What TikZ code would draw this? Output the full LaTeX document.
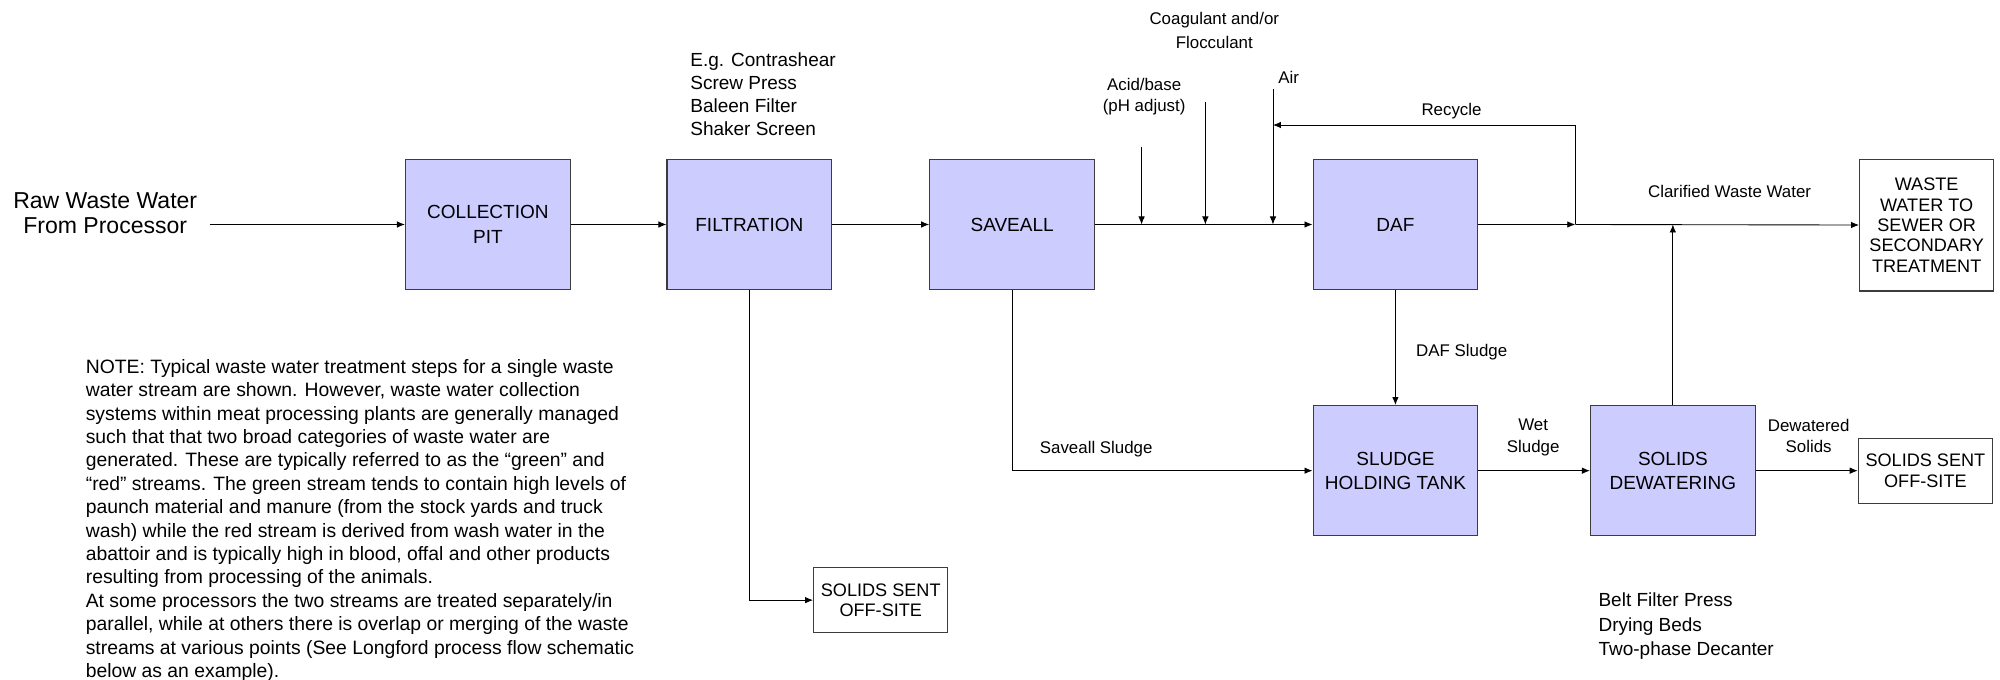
\documentclass[tikz,border=0pt]{standalone}
\usepackage{fontspec}
\setmainfont{Liberation Sans}
\usetikzlibrary{arrows.meta,positioning}

\definecolor{procfill}{RGB}{204,204,255}
\definecolor{procline}{RGB}{60,60,60}

\tikzset{
  procbox/.style={draw=procline, line width=0.7pt, fill=procfill, minimum width=3.29cm,
    minimum height=2.6cm, align=center, inner sep=2pt, font=\fontsize{10.8}{13.8}\selectfont},
  endbox/.style={draw=procline, line width=0.7pt, fill=white, minimum width=2.68cm,
    align=center, inner sep=2pt, font=\fontsize{10.3}{11.6}\selectfont},
  flow/.style={line width=0.5pt, -{Latex[length=1.6mm,width=1.3mm]}},
  plain/.style={line width=0.5pt},
  smalltxt/.style={inner sep=0pt, align=center, font=\fontsize{9.6}{11.6}\selectfont},
  bigtxt/.style={inner sep=0pt, align=left, font=\fontsize{10.8}{13.1}\selectfont},
}

\begin{document}
\begin{tikzpicture}[x=0.0255cm, y=-0.0255cm]
\useasboundingbox (0,0) rectangle (1568,533);

% main process boxes
\node[procbox] (colpit)  at (382.5,176) {COLLECTION\\PIT};
\node[procbox] (filt)    at (587.5,176) {FILTRATION};
\node[procbox] (saveall) at (793.5,176) {SAVEALL};
\node[procbox] (daf)     at (1094,176)  {DAF};
\node[procbox] (tank)    at (1094,369)  {SLUDGE\\HOLDING TANK};
\node[procbox] (dewat)   at (1311.5,369) {SOLIDS\\DEWATERING};

% end points
\node[endbox, minimum height=2.63cm] (sewer) at (1510.5,176.5)
  {WASTE\\WATER TO\\SEWER OR\\SECONDARY\\TREATMENT};
\node[endbox, minimum height=1.3cm] (offR) at (1509.5,369) {SOLIDS SENT\\OFF-SITE};
\node[endbox, minimum height=1.3cm] (offB) at (690.5,470.5) {SOLIDS SENT\\OFF-SITE};

% input text
\node[inner sep=0pt, align=center, anchor=north, font=\fontsize{13.1}{14.5}\selectfont]
  (raw) at (82.5,150.5) {Raw Waste Water\\From Processor};
\coordinate (rawend) at (165,176);

% junction points on the line
\coordinate (acidtop) at (895,115);
\coordinate (acidj)   at (895,176);
\coordinate (coagtop) at (945,80);
\coordinate (coagj)   at (945,176);
\coordinate (airtop)  at (998,70);
\coordinate (airj)    at (998,176);
\coordinate (rcyend)  at (998,98);
\coordinate (rcyj)    at (1235,176);

% main flow
\draw[flow] (rawend) -- (colpit);
\draw[flow] (colpit) -- (filt);
\draw[flow] (filt) -- (saveall);
\draw[flow] (saveall) -- (daf);
\draw[flow] (daf) -- (rcyj);
\draw[flow] (rcyj) -- (sewer);

% dosing and recycle
\draw[flow] (acidtop) -- (acidj);
\draw[flow] (coagtop) -- (coagj);
\draw[flow] (airtop) -- (airj);
\draw[flow] (rcyj) |- (rcyend);

% sludge lines
\draw[flow] (filt.south) |- (offB.west);
\draw[flow] (saveall.south) |- (tank.west);
\draw[flow] (daf) -- (tank);
\draw[flow] (tank) -- (dewat);
\draw[flow] (dewat) -- (offR);
\draw[flow] (dewat.north) -- (dewat.north |- rcyj);

% labels
\node[bigtxt, anchor=north west] (egtxt) at (541,40.7)
  {E.g. Contrashear\\Screw Press\\Baleen Filter\\Shaker Screen};
\node[smalltxt, anchor=north, font=\fontsize{9.6}{13.5}\selectfont] (coagtxt) at (952,9.3)
  {Coagulant and/or\\Flocculant};
\node[smalltxt, anchor=north] (acidtxt) at (897,61.3) {Acid/base\\(pH adjust)};
\node[smalltxt, anchor=west] (airtxt) at (1002,61) {Air};
\node[smalltxt, anchor=base] (rcytxt) at (1138,90.7) {Recycle};
\node[smalltxt, anchor=base] (clartxt) at (1356,154.7) {Clarified Waste Water};
\node[smalltxt, anchor=base west] (daftxt) at (1110,279.7) {DAF Sludge};
\node[smalltxt, anchor=base west] (savtxt) at (815,355.7) {Saveall Sludge};
\node[smalltxt, anchor=north, font=\fontsize{9.6}{12.3}\selectfont] (wettxt) at (1202,328.3)
  {Wet\\Sludge};
\node[smalltxt, anchor=north, font=\fontsize{9.6}{12.3}\selectfont] (dwtxt) at (1418,328.3)
  {Dewatered\\Solids};
\node[bigtxt, anchor=north west, font=\fontsize{10.8}{13.8}\selectfont] (belttxt) at (1253,464.7)
  {Belt Filter Press\\Drying Beds\\Two-phase Decanter};

% note
\node[bigtxt, anchor=north west, font=\fontsize{11}{13.3}\selectfont] (note) at (67,281.5)
  {NOTE: Typical waste water treatment steps for a single waste\\
   water stream are shown. However, waste water collection\\
   systems within meat processing plants are generally managed\\
   such that that two broad categories of waste water are\\
   generated. These are typically referred to as the “green” and\\
   “red” streams. The green stream tends to contain high levels of\\
   paunch material and manure (from the stock yards and truck\\
   wash) while the red stream is derived from wash water in the\\
   abattoir and is typically high in blood, offal and other products\\
   resulting from processing of the animals.\\
   At some processors the two streams are treated separately/in\\
   parallel, while at others there is overlap or merging of the waste\\
   streams at various points (See Longford process flow schematic\\
   below as an example).};
\end{tikzpicture}
\end{document}
